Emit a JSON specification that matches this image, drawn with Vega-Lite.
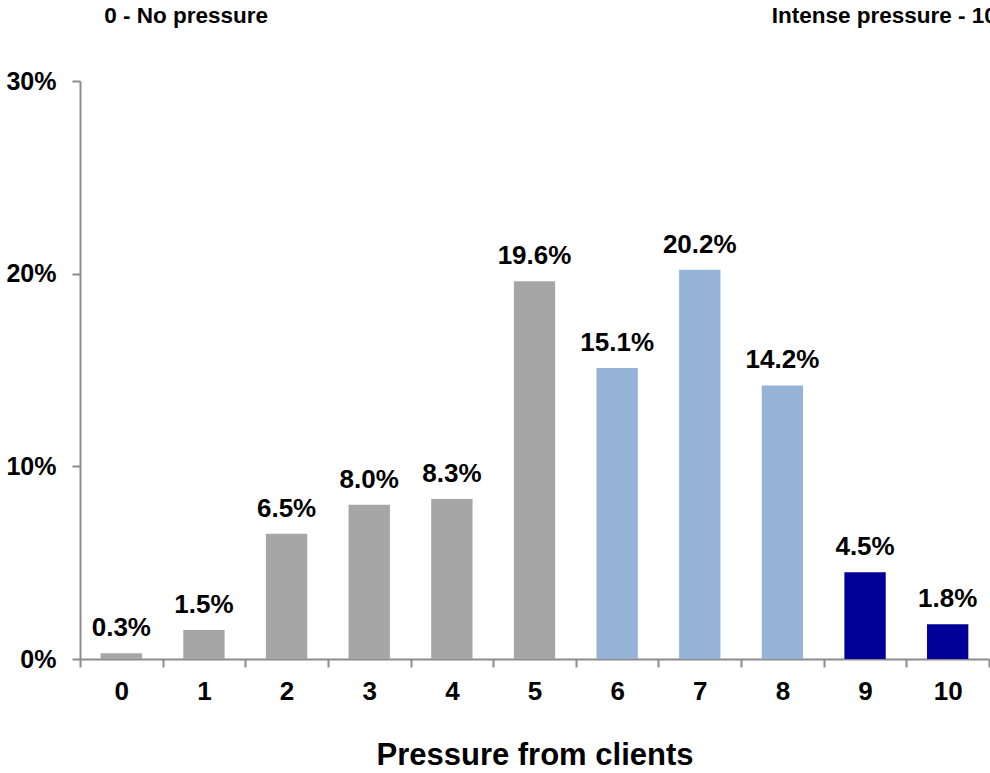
{
  "$schema": "https://vega.github.io/schema/vega-lite/v6.json",
  "autosize": {"type": "none"},
  "padding": {"left": 80, "top": 81, "right": 1, "bottom": 114},
  "width": 909,
  "height": 578,
  "background": "white",
  "config": {
    "view": {"stroke": null},
    "font": "Liberation Sans"
  },
  "datasets": {
    "scores": [
      {"score": "0", "share": 0.003, "band": "low"},
      {"score": "1", "share": 0.015, "band": "low"},
      {"score": "2", "share": 0.065, "band": "low"},
      {"score": "3", "share": 0.080, "band": "low"},
      {"score": "4", "share": 0.083, "band": "low"},
      {"score": "5", "share": 0.196, "band": "low"},
      {"score": "6", "share": 0.151, "band": "mid"},
      {"score": "7", "share": 0.202, "band": "mid"},
      {"score": "8", "share": 0.142, "band": "mid"},
      {"score": "9", "share": 0.045, "band": "high"},
      {"score": "10", "share": 0.018, "band": "high"}
    ],
    "lowEnd": [
      {"score": "0", "share": 0.33, "label": "0 - No pressure"}
    ],
    "highEnd": [
      {"score": "10", "share": 0.33, "label": "Intense pressure - 10"}
    ]
  },
  "layer": [
    {
      "data": {"name": "scores"},
      "mark": {"type": "bar", "width": {"band": 0.5}},
      "encoding": {
        "x": {
          "field": "score",
          "type": "ordinal",
          "sort": null,
          "scale": {"paddingInner": 0, "paddingOuter": 0},
          "axis": {
            "title": "Pressure from clients",
            "titleFont": "Liberation Sans",
            "titleFontSize": 31,
            "titleFontWeight": "bold",
            "titleColor": "black",
            "titlePadding": 36,
            "labelAngle": 0,
            "labelFont": "Liberation Sans",
            "labelFontSize": 26,
            "labelFontWeight": "bold",
            "labelColor": "black",
            "labelPadding": 11,
            "tickBand": "extent",
            "tickSize": 8,
            "tickColor": "#8c8c8c",
            "tickWidth": 2,
            "domainColor": "#8c8c8c",
            "domainWidth": 2
          }
        },
        "y": {
          "field": "share",
          "type": "quantitative",
          "scale": {"domain": [0, 0.3], "nice": false},
          "axis": {
            "title": null,
            "values": [0, 0.1, 0.2, 0.3],
            "format": ".0%",
            "grid": false,
            "labelFont": "Liberation Sans",
            "labelFontSize": 25,
            "labelFontWeight": "bold",
            "labelColor": "black",
            "labelPadding": 16,
            "tickSize": 8,
            "tickColor": "#8c8c8c",
            "tickWidth": 2,
            "domainColor": "#8c8c8c",
            "domainWidth": 2
          }
        },
        "color": {
          "field": "band",
          "type": "nominal",
          "scale": {"domain": ["low", "mid", "high"], "range": ["#a6a6a6", "#95b3d7", "#000099"]},
          "legend": null
        }
      }
    },
    {
      "data": {"name": "scores"},
      "mark": {"type": "text", "font": "Liberation Sans", "fontSize": 26, "fontWeight": "bold", "color": "black", "baseline": "alphabetic", "dy": -17},
      "encoding": {
        "x": {"field": "score", "type": "ordinal", "sort": null},
        "y": {"field": "share", "type": "quantitative"},
        "text": {"field": "share", "type": "quantitative", "format": ".1%"}
      }
    },
    {
      "data": {"name": "lowEnd"},
      "mark": {"type": "text", "font": "Liberation Sans", "fontSize": 22.5, "fontWeight": "bold", "color": "black", "baseline": "alphabetic", "align": "left", "dx": -17},
      "encoding": {
        "x": {"field": "score", "type": "ordinal", "sort": null},
        "y": {"field": "share", "type": "quantitative"},
        "text": {"field": "label"}
      }
    },
    {
      "data": {"name": "highEnd"},
      "mark": {"type": "text", "font": "Liberation Sans", "fontSize": 22.5, "fontWeight": "bold", "color": "black", "baseline": "alphabetic", "align": "left", "dx": -176},
      "encoding": {
        "x": {"field": "score", "type": "ordinal", "sort": null},
        "y": {"field": "share", "type": "quantitative"},
        "text": {"field": "label"}
      }
    }
  ]
}
